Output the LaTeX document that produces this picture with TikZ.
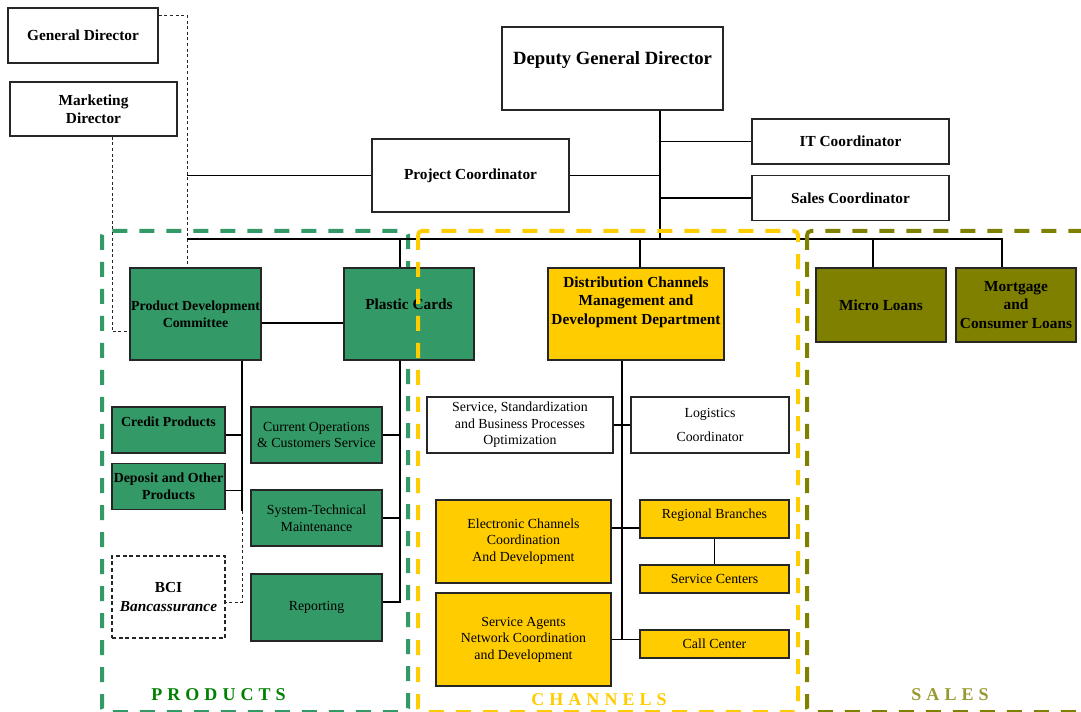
\documentclass[tikz,border=0pt]{standalone}
\usepackage{fontspec}
\setmainfont{Liberation Serif}
\usetikzlibrary{positioning}
\definecolor{prodgreen}{HTML}{339966}
\definecolor{chanyellow}{HTML}{FFCC00}
\definecolor{salesolive}{HTML}{808000}
\definecolor{prodlabel}{HTML}{008000}
\definecolor{saleslabel}{HTML}{999933}
\newcommand{\bigbold}{\fontsize{11.5}{13.8}\selectfont\bfseries}
\newcommand{\smallbold}{\fontsize{10.4}{12.8}\selectfont\bfseries}
\newcommand{\regtext}{\fontsize{10.4}{12.4}\selectfont}
\newcommand{\grouplabel}{\fontsize{13.5}{15}\selectfont\bfseries\addfontfeature{LetterSpace=28}}

\begin{document}
\begin{tikzpicture}[x=0.75pt, y=-0.75pt,
          line/.style={line width=1pt, draw=black},
          dotline/.style={line width=0.75pt, draw=black!85, dash pattern=on 2.2pt off 2pt},
          frame/.style={line width=3pt, dash pattern=on 11.25pt off 9pt, rounded corners=3pt},
          lift/.style={text depth=#1}]
          % Box styles
          \tikzstyle{boxnode} = [draw=black!85, line width=1.3pt, rectangle, align=center, inner sep=1pt, font=\bigbold]
          \tikzstyle{greenbox} = [boxnode, fill=prodgreen]
          \tikzstyle{yellowbox} = [boxnode, fill=chanyellow]
          \tikzstyle{olivebox} = [boxnode, fill=salesolive]
          \tikzstyle{dashbox} = [boxnode, line width=1pt, dash pattern=on 3pt off 2pt]

          \useasboundingbox (0,0) rectangle (1081,712);

          % Products frame goes under the boxes
          \draw[frame, draw=prodgreen] (102,231) rectangle (408,712);

          % Management on top
          \node (GenDir)     [boxnode, minimum width=112.5pt, minimum height=41.25pt] at (83,35.5) {General Director};
          \node (MarkDir)    [boxnode, minimum width=125.25pt, minimum height=40.5pt] at (93.5,109) {Marketing\\Director};
          \node (DepGenDir)  [boxnode, minimum width=165.75pt, minimum height=62.25pt, font=\fontsize{14}{16}\selectfont\bfseries, lift=16pt] at (612.5,68.5) {Deputy General Director};
          \node (ProjCoord)  [boxnode, minimum width=147.75pt, minimum height=54.75pt] at (470.5,175.5) {Project Coordinator};
          \node (ITCoord)    [boxnode, minimum width=147.75pt, minimum height=33.75pt] at (850.5,141.5) {IT Coordinator};
          \node (SalesCoord) [boxnode, minimum width=147.75pt, minimum height=33.75pt, below=7.25pt of ITCoord] {Sales Coordinator};

          % Products
          \node (ProdDev)   [greenbox, minimum width=98.25pt, minimum height=69pt, font=\smallbold] at (195.5,314) {Product Development\\Committee};
          \node (Plastic)   [greenbox, minimum width=97.5pt, minimum height=69pt, lift=15pt] at (409,314) {Plastic Cards};
          \node (Credit)    [greenbox, minimum width=84.75pt, minimum height=34.5pt, font=\smallbold, lift=12pt] at (168.5,430) {Credit Products};
          \node (Deposit)   [greenbox, minimum width=84.75pt, minimum height=34.5pt, font=\smallbold, below=6.5pt of Credit] {Deposit and Other\\Products};
          \node (BCI)       [dashbox, minimum width=84.75pt, minimum height=61.5pt] at (168.5,597) {BCI\\\textit{Bancassurance}};
          \node (CurOps)    [greenbox, minimum width=98.25pt, minimum height=42pt, font=\regtext] at (316.5,435) {Current Operations\\\& Customers Service};
          \node (SysTech)   [greenbox, minimum width=98.25pt, minimum height=42pt, font=\regtext] at (316.5,518) {System-Technical\\Maintenance};
          \node (Reporting) [greenbox, minimum width=98.25pt, minimum height=50.25pt, font=\regtext] at (316.5,607.5) {Reporting};

          % Channels
          \node (DistCh)    [yellowbox, minimum width=132pt, minimum height=69pt, lift=20.5pt] at (636,314) {Distribution Channels\\Management and\\Development Department};
          \node (ServStd)   [boxnode, minimum width=139.5pt, minimum height=42pt, font=\regtext] at (520,425) {Service, Standardization\\and Business Processes\\Optimization};
          \node (Logistics) [boxnode, minimum width=118.5pt, minimum height=42pt, font=\regtext] at (710,425) {Logistics\\[6pt]Coordinator};
          \node (ElecCh)    [yellowbox, minimum width=131.25pt, minimum height=62.25pt, font=\regtext] at (523.5,541.5) {Electronic Channels\\Coordination\\And Development};
          \node (ServAg)    [yellowbox, minimum width=131.25pt, minimum height=69.75pt, font=\regtext] at (523.5,639.5) {Service Agents\\Network Coordination\\and Development};
          \node (RegBr)     [yellowbox, minimum width=111.75pt, minimum height=28.5pt, font=\regtext, lift=8.3pt] at (714.5,519) {Regional Branches};
          \node (ServCen)   [yellowbox, minimum width=111.75pt, minimum height=21pt, font=\regtext] at (714.5,579) {Service Centers};
          \node (CallCen)   [yellowbox, minimum width=111.75pt, minimum height=21pt, font=\regtext] at (714.5,644) {Call Center};

          % Sales
          \node (Micro)     [olivebox, minimum width=97.5pt, minimum height=55.5pt] at (881,305) {Micro Loans};
          \node (Mortgage)  [olivebox, minimum width=90pt, minimum height=55.5pt] at (1016,305) {Mortgage\\and\\Consumer Loans};

          % Points on the lines
          \coordinate (gx) at (187,239);
          \coordinate (dx) at (660,239);
          \coordinate (busPC) at (400,239);
          \coordinate (busDC) at (640,239);
          \coordinate (busML) at (873,239);
          \coordinate (busMC) at (1002,239);
          \coordinate (pdStem) at (242,511);
          \coordinate (pcStem) at (400,602);
          \coordinate (dcStem) at (622,639.5);

          % Dotted lines from the directors
          \draw[dotline] ([yshift=-6pt]GenDir.north east) -| (gx) -- (gx |- ProdDev.north);
          \draw[dotline] (MarkDir.south -| 112,0) |- ([yshift=-13.5pt]ProdDev.west);

          % Top lines
          \draw[line] (ProjCoord.west) -- (ProjCoord.west -| gx);
          \draw[line] (ProjCoord.east) -- (ProjCoord.east -| dx);
          \draw[line] (DepGenDir.south -| dx) -- (dx);
          \draw[line] (ITCoord.west) -- (ITCoord.west -| dx);
          \draw[line] (SalesCoord.west) -- (SalesCoord.west -| dx);
          \draw[line] (gx) -- (busMC) -- (busMC |- Mortgage.north);
          \draw[line] (busPC) -- (busPC |- Plastic.north);
          \draw[line] (busDC) -- (busDC |- DistCh.north);
          \draw[line] (busML) -- (busML |- Micro.north);

          % Products lines
          \draw[line] ([yshift=-6.75pt]ProdDev.east) -- ([yshift=-6.75pt]ProdDev.east -| Plastic.west);
          \draw[line] (ProdDev.south -| pdStem) -- (pdStem);
          \draw[dotline] (pdStem) |- (BCI.east |- pcStem);
          \draw[line] (Credit.east |- CurOps.east) -- (pdStem |- CurOps.east);
          \draw[line] ([yshift=-3pt]Deposit.east) -- ([yshift=-3pt]Deposit.east -| pdStem);
          \draw[line] (Plastic.south -| pcStem) -- (pcStem) -- (pcStem -| Reporting.east);
          \draw[line] (CurOps.east) -- (CurOps.east -| pcStem);
          \draw[line] (SysTech.east) -- (SysTech.east -| pcStem);

          % Channels lines
          \draw[line] (DistCh.south -| dcStem) -- (dcStem);
          \draw[line] (ServStd.east) -- (Logistics.west);
          \draw[line] ([yshift=-6.75pt]RegBr.west) -- ([yshift=-6.75pt]RegBr.west -| ElecCh.east);
          \draw[line] (ServAg.east) -- (CallCen.west |- ServAg.east);
          \draw[line] (RegBr.south) -- (ServCen.north);

          % Channels and sales frames on top
          \draw[frame, draw=chanyellow] (418,231) rectangle (798,712);
          \draw[frame, draw=salesolive] (807,231) rectangle (1090,712);

          % Group names
          \node (ProdName)  [font=\grouplabel, text=prodlabel, anchor=base] at (218.5,700) {PRODUCTS};
          \node (ChanName)  [font=\grouplabel, text=chanyellow, anchor=base] at (599,705) {CHANNELS};
          \node (SalesName) [font=\grouplabel, text=saleslabel, anchor=base] at (950,700) {SALES};
\end{tikzpicture}
\end{document}
